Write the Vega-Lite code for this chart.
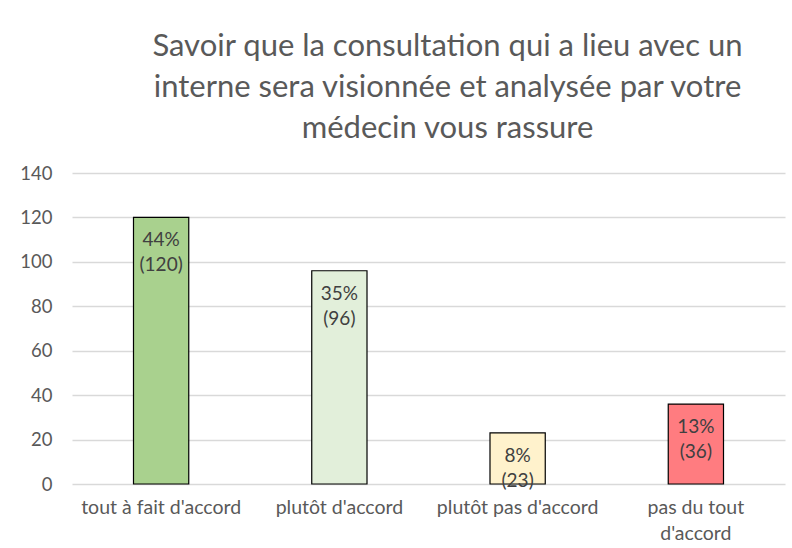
{
  "$schema": "https://vega.github.io/schema/vega-lite/v6.json",
  "width": 713,
  "height": 311,
  "autosize": "none",
  "padding": {"left": 72, "top": 173, "right": 7, "bottom": 64},
  "background": "white",
  "title": {
    "text": ["Savoir que la consultation qui a lieu avec un", "interne sera visionnée et analysée par votre", "médecin vous rassure"],
    "font": "Lato",
    "fontSize": 31,
    "fontWeight": "normal",
    "color": "#595959",
    "lineHeight": 41,
    "anchor": "middle",
    "dx": 19,
    "offset": 19
  },
  "data": {
    "values": [
      {"cat": "tout à fait d'accord", "n": 120, "label": "44%\n(120)", "color": "#a9d18e"},
      {"cat": "plutôt d'accord", "n": 96, "label": "35%\n(96)", "color": "#e2efda"},
      {"cat": "plutôt pas d'accord", "n": 23, "label": "8%\n(23)", "color": "#fff2cc"},
      {"cat": "pas du tout d'accord", "n": 36, "label": "13%\n(36)", "color": "#ff7c80"}
    ]
  },
  "encoding": {
    "x": {
      "field": "cat",
      "type": "nominal",
      "sort": null,
      "scale": {"paddingInner": 0.69, "paddingOuter": 0.345},
      "axis": {
        "title": null,
        "labelAngle": 0,
        "domain": false,
        "ticks": false,
        "labelFont": "Lato",
        "labelFontSize": 19.5,
        "labelColor": "#595959",
        "labelPadding": 14,
        "labelLineHeight": 26,
        "labelExpr": "datum.label == \"pas du tout d'accord\" ? ['pas du tout', \"d'accord\"] : datum.label"
      }
    },
    "y": {
      "field": "n",
      "type": "quantitative",
      "scale": {"domain": [0, 140]},
      "axis": {
        "title": null,
        "values": [0, 20, 40, 60, 80, 100, 120, 140],
        "domain": false,
        "ticks": false,
        "gridColor": "#d9d9d9",
        "gridWidth": 1.5,
        "labelFont": "Lato",
        "labelFontSize": 18.5,
        "labelColor": "#595959",
        "labelPadding": 20
      }
    }
  },
  "layer": [
    {
      "mark": {"type": "bar", "stroke": "black", "strokeWidth": 1.2},
      "encoding": {"color": {"field": "color", "type": "nominal", "scale": null}}
    },
    {
      "mark": {"type": "text", "baseline": "top", "dy": 14, "lineBreak": "\n", "lineHeight": 25, "font": "Lato", "fontSize": 19, "color": "#404040"},
      "encoding": {"text": {"field": "label"}}
    }
  ],
  "config": {"view": {"stroke": null}}
}
